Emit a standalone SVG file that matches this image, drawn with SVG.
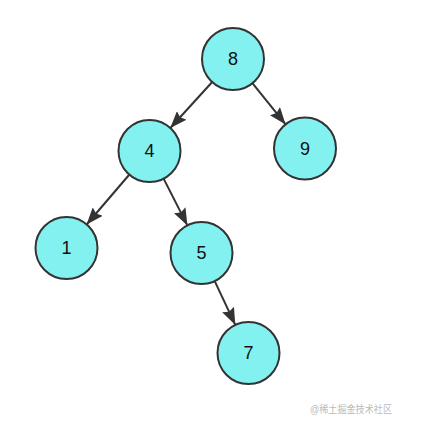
<svg xmlns="http://www.w3.org/2000/svg" width="422" height="427" viewBox="0 0 422 427">
<style>
.node circle{fill:#84f1f1;stroke:#333;stroke-width:2}
.node text{font-family:"Liberation Sans",Arial,sans-serif;font-size:18px;fill:#111;text-anchor:middle;dominant-baseline:central}
.edge{stroke:#333;stroke-width:2;fill:none;marker-end:url(#arr)}
.wm{font-family:"Liberation Sans","Noto Sans CJK SC",sans-serif;font-size:10px;fill:#bbb}
</style>
<defs>
<marker id="arr" markerUnits="userSpaceOnUse" markerWidth="17" markerHeight="13" refX="17" refY="6.5" orient="auto">
<path d="M0,0 L17,6.5 L0,13 L2.5,6.5 Z" fill="#333"/>
</marker>
</defs>
<rect width="422" height="427" fill="#fff"/>
<g id="connectors">
<line class="edge" x1="212.2" y1="82" x2="170.3" y2="128"/>
<line class="edge" x1="252.4" y1="83.1" x2="285.6" y2="124.4"/>
<line class="edge" x1="129.4" y1="174.5" x2="86.6" y2="224.5"/>
<line class="edge" x1="163.6" y1="178.6" x2="187.4" y2="225.4"/>
<line class="edge" x1="214.7" y1="281.1" x2="235.3" y2="324.9"/>
</g>
<g id="node8" class="node"><circle cx="233" cy="59" r="31"/><text x="233" y="59">8</text></g>
<g id="node9" class="node"><circle cx="305" cy="148.5" r="31"/><text x="305" y="148.5">9</text></g>
<g id="node4" class="node"><circle cx="149.5" cy="151" r="31"/><text x="149.5" y="151">4</text></g>
<g id="node1" class="node"><circle cx="66.5" cy="248" r="31"/><text x="66.5" y="248">1</text></g>
<g id="node5" class="node"><circle cx="201.5" cy="253" r="31"/><text x="201.5" y="253">5</text></g>
<g id="node7" class="node"><circle cx="248.5" cy="353" r="31"/><text x="248.5" y="353">7</text></g>
<text class="wm" x="310" y="413" textLength="82" lengthAdjust="spacingAndGlyphs">@稀土掘金技术社区</text>
</svg>
